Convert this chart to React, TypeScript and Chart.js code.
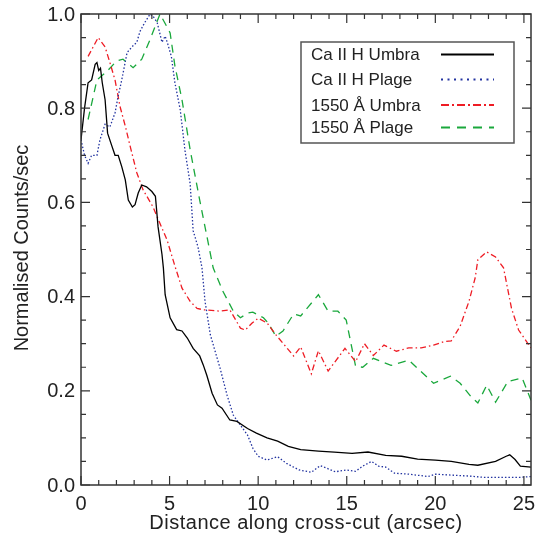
import React, { useEffect, useRef } from "react";
import { Chart, registerables } from "chart.js";
Chart.register(...registerables);

const caUmbraX = [0, 0.2, 0.4, 0.6, 0.8, 0.9, 1.0, 1.1, 1.2, 1.36, 1.5, 1.74, 1.92, 2.1, 2.3, 2.5, 2.67, 2.9, 3.05, 3.23, 3.43, 3.7, 4.0, 4.2, 4.35, 4.57, 4.65, 4.75, 5.03, 5.4, 5.7, 6.0, 6.33, 6.7, 6.9, 7.1, 7.4, 7.7, 7.96, 8.4, 8.8, 9.4, 9.9, 10.5, 11.1, 11.7, 12.4, 13.4, 14.3, 15.3, 16.2, 17.2, 18.1, 19.0, 20.0, 20.9, 21.9, 22.4, 23.4, 24.0, 24.2, 24.5, 24.8, 25.4];
const caUmbraY = [0.733, 0.80, 0.854, 0.86, 0.893, 0.897, 0.88, 0.885, 0.854, 0.818, 0.747, 0.72, 0.70, 0.70, 0.676, 0.648, 0.605, 0.59, 0.595, 0.62, 0.637, 0.633, 0.623, 0.613, 0.548, 0.49, 0.461, 0.404, 0.355, 0.33, 0.327, 0.312, 0.29, 0.274, 0.255, 0.233, 0.195, 0.17, 0.163, 0.138, 0.135, 0.12, 0.11, 0.10, 0.093, 0.082, 0.075, 0.072, 0.07, 0.067, 0.07, 0.063, 0.061, 0.055, 0.053, 0.05, 0.044, 0.042, 0.05, 0.061, 0.064, 0.054, 0.04, 0.038];

const caPlageX = [0, 0.2, 0.4, 0.6, 0.9, 1.07, 1.36, 1.63, 1.92, 2.1, 2.3, 2.6, 2.87, 3.15, 3.33, 3.6, 3.9, 4.07, 4.3, 4.57, 4.75, 4.9, 5.1, 5.3, 5.6, 5.87, 6.16, 6.33, 6.6, 6.83, 7.0, 7.3, 7.57, 7.85, 8.25, 8.6, 9.0, 9.4, 9.7, 10.0, 10.5, 11.1, 11.6, 12.3, 13.0, 13.5, 13.85, 14.35, 14.97, 15.5, 15.9, 16.4, 16.8, 17.2, 17.7, 18.5, 19.6, 20.0, 20.9, 21.9, 22.8, 24.7, 25.4];
const caPlageY = [0.733, 0.70, 0.683, 0.70, 0.70, 0.733, 0.766, 0.76, 0.79, 0.826, 0.86, 0.918, 0.93, 0.94, 0.963, 0.982, 1.0, 0.995, 0.982, 0.94, 0.953, 0.936, 0.91, 0.854, 0.797, 0.71, 0.64, 0.54, 0.506, 0.461, 0.39, 0.319, 0.284, 0.248, 0.19, 0.148, 0.127, 0.106, 0.078, 0.061, 0.053, 0.06, 0.046, 0.032, 0.027, 0.041, 0.036, 0.028, 0.032, 0.029, 0.04, 0.05, 0.04, 0.038, 0.025, 0.023, 0.018, 0.023, 0.021, 0.019, 0.016, 0.016, 0.018];

const uvUmbraX = [0.4, 0.97, 1.36, 1.63, 1.92, 2.2, 2.5, 2.77, 3.15, 3.5, 4.07, 4.46, 4.86, 5.3, 5.7, 6.16, 6.55, 6.9, 7.85, 8.4, 9.0, 9.27, 9.66, 10.0, 10.5, 11.0, 12.0, 12.4, 13.0, 13.4, 13.95, 14.9, 15.5, 16.0, 16.5, 17.1, 17.8, 18.5, 19.2, 19.9, 20.45, 20.9, 21.4, 21.9, 22.25, 22.4, 22.9, 23.4, 23.85, 24.3, 24.7, 25.4];
const uvUmbraY = [0.91, 0.95, 0.93, 0.897, 0.86, 0.804, 0.762, 0.72, 0.663, 0.627, 0.59, 0.555, 0.52, 0.465, 0.418, 0.39, 0.375, 0.372, 0.369, 0.372, 0.333, 0.329, 0.344, 0.354, 0.344, 0.319, 0.274, 0.293, 0.236, 0.285, 0.242, 0.29, 0.262, 0.30, 0.275, 0.297, 0.284, 0.291, 0.291, 0.297, 0.304, 0.306, 0.337, 0.39, 0.44, 0.478, 0.495, 0.484, 0.461, 0.375, 0.329, 0.291];

const uvPlageX = [0.4, 0.9, 1.46, 2.0, 2.37, 2.94, 3.43, 3.9, 4.46, 5.03, 5.3, 5.7, 6.16, 6.7, 7.46, 8.0, 8.6, 9.0, 9.4, 9.7, 10.3, 10.56, 11.0, 11.4, 12.0, 12.4, 13.4, 13.95, 14.5, 14.97, 15.5, 15.9, 16.5, 17.5, 18.5, 19.9, 20.85, 21.4, 22.0, 22.4, 22.9, 23.4, 24.1, 24.9, 25.4];
const uvPlageY = [0.776, 0.86, 0.878, 0.90, 0.904, 0.886, 0.904, 0.946, 1.0, 0.96, 0.89, 0.818, 0.712, 0.605, 0.461, 0.412, 0.369, 0.355, 0.365, 0.367, 0.355, 0.344, 0.316, 0.327, 0.363, 0.359, 0.404, 0.369, 0.369, 0.35, 0.252, 0.25, 0.269, 0.254, 0.265, 0.216, 0.231, 0.216, 0.188, 0.174, 0.212, 0.176, 0.22, 0.227, 0.18];

const seriesLabels = ["Ca II H Umbra", "Ca II H Plage", "1550 Å Umbra", "1550 Å Plage"];
const xMajorTicks = [0, 5, 10, 15, 20, 25];
const yMajorTicks = [0, 0.2, 0.4, 0.6, 0.8, 1.0];
const xMin = 0;
const xMax = 25.4;
const yMin = 0;
const yMax = 1.0;
const xTitle = "Distance along cross-cut (arcsec)";
const yTitle = "Normalised Counts/sec";

const FONT = "'Liberation Sans', Arial, sans-serif";
const TEXT = "#222";

const toPts = (xs: number[], ys: number[]) => xs.map((x, i) => ({ x, y: ys[i] }));

const framePlugin = {
  id: "frameTicks",
  afterDraw(chart: any) {
    const { ctx, chartArea: ca } = chart;
    const xs = chart.scales.x;
    const ys = chart.scales.y;
    ctx.save();
    ctx.strokeStyle = "#333";
    ctx.lineWidth = 1.5;
    ctx.setLineDash([]);
    ctx.strokeRect(ca.left, ca.top, ca.right - ca.left, ca.bottom - ca.top);
    ctx.lineWidth = 1.2;
    ctx.beginPath();
    for (let v = 0; v <= 25; v++) {
      const px = xs.getPixelForValue(v);
      const len = v % 5 === 0 ? 9 : 5;
      ctx.moveTo(px, ca.bottom);
      ctx.lineTo(px, ca.bottom - len);
      ctx.moveTo(px, ca.top);
      ctx.lineTo(px, ca.top + len);
    }
    for (let i = 0; i <= 20; i++) {
      const py = ys.getPixelForValue(i / 20);
      const len = i % 4 === 0 ? 9 : 5;
      ctx.moveTo(ca.left, py);
      ctx.lineTo(ca.left + len, py);
      ctx.moveTo(ca.right, py);
      ctx.lineTo(ca.right - len, py);
    }
    ctx.stroke();

    // tick labels
    ctx.fillStyle = TEXT;
    ctx.font = `20px ${FONT}`;
    ctx.textAlign = "center";
    ctx.textBaseline = "top";
    xMajorTicks.forEach((v) => {
      ctx.fillText(String(v), xs.getPixelForValue(v), ca.bottom + 9);
    });
    ctx.textAlign = "right";
    ctx.textBaseline = "middle";
    yMajorTicks.forEach((v) => {
      ctx.fillText(v.toFixed(1), ca.left - 6, ys.getPixelForValue(v) + 1);
    });

    // titles
    ctx.font = `20px ${FONT}`;
    ctx.textAlign = "center";
    ctx.textBaseline = "alphabetic";
    (ctx as any).letterSpacing = "0.5px";
    ctx.fillText(xTitle, (ca.left + ca.right) / 2, 529);
    (ctx as any).letterSpacing = "0px";
    ctx.save();
    ctx.translate(28, 248);
    ctx.rotate(-Math.PI / 2);
    ctx.fillText(yTitle, 0, 0);
    ctx.restore();

    // legend
    const bx = 301, by = 42, bw = 213, bh = 101;
    ctx.fillStyle = "#fff";
    ctx.fillRect(bx, by, bw, bh);
    ctx.strokeStyle = "#555";
    ctx.lineWidth = 1.5;
    ctx.strokeRect(bx, by, bw, bh);
    const rows = [54.5, 79.5, 105, 127.5];
    const legendDash = [[], [2, 4.5], [8, 3, 2, 3], [9, 7]];
    ctx.font = `17px ${FONT}`;
    ctx.textAlign = "left";
    ctx.textBaseline = "middle";
    chart.data.datasets.forEach((ds: any, i: number) => {
      ctx.fillStyle = TEXT;
      ctx.fillText(ds.label, 311, rows[i] + 1);
      ctx.strokeStyle = ds.borderColor;
      ctx.lineWidth = i === 1 ? 2.2 : 2;
      ctx.setLineDash(legendDash[i]);
      ctx.beginPath();
      ctx.moveTo(441, rows[i]);
      ctx.lineTo(494, rows[i]);
      ctx.stroke();
    });
    ctx.restore();
  },
};

export default function App() {
  const ref = useRef<HTMLCanvasElement>(null);
  useEffect(() => {
    document.body.style.margin = "0";
    const chart = new Chart(ref.current!, {
      type: "line",
      data: {
        datasets: [
          { label: seriesLabels[0], data: toPts(caUmbraX, caUmbraY), borderColor: "#000000", borderWidth: 1.3, pointRadius: 0 },
          { label: seriesLabels[1], data: toPts(caPlageX, caPlageY), borderColor: "#2233a0", borderWidth: 1.3, borderDash: [1.5, 2], pointRadius: 0 },
          { label: seriesLabels[2], data: toPts(uvUmbraX, uvUmbraY), borderColor: "#ee1c24", borderWidth: 1.3, borderDash: [6, 3, 1.5, 3], pointRadius: 0 },
          { label: seriesLabels[3], data: toPts(uvPlageX, uvPlageY), borderColor: "#1aa83c", borderWidth: 1.3, borderDash: [8, 6], pointRadius: 0 },
        ],
      },
      options: {
        animation: false,
        responsive: false,
        devicePixelRatio: 1,
        layout: { padding: { left: 0, right: 7, top: 14, bottom: 0 } },
        plugins: { legend: { display: false }, tooltip: { enabled: false } },
        elements: { line: { tension: 0 } },
        scales: {
          x: {
            type: "linear",
            min: xMin,
            max: xMax,
            grid: { display: false, drawTicks: false },
            border: { display: false },
            afterBuildTicks: (s: any) => { s.ticks = xMajorTicks.map((v) => ({ value: v })); },
            afterFit: (s: any) => { s.height = 54; },
            ticks: { display: false },
          },
          y: {
            type: "linear",
            min: yMin,
            max: yMax,
            grid: { display: false, drawTicks: false },
            border: { display: false },
            afterBuildTicks: (s: any) => { s.ticks = yMajorTicks.map((v) => ({ value: v })); },
            afterFit: (s: any) => { s.width = 81; },
            ticks: { display: false },
          },
        },
      },
      plugins: [framePlugin],
    });
    return () => chart.destroy();
  }, []);
  return (
    <div style={{ width: 538, height: 539 }}>
      <canvas ref={ref} width={538} height={539} style={{ display: "block" }} />
    </div>
  );
}
